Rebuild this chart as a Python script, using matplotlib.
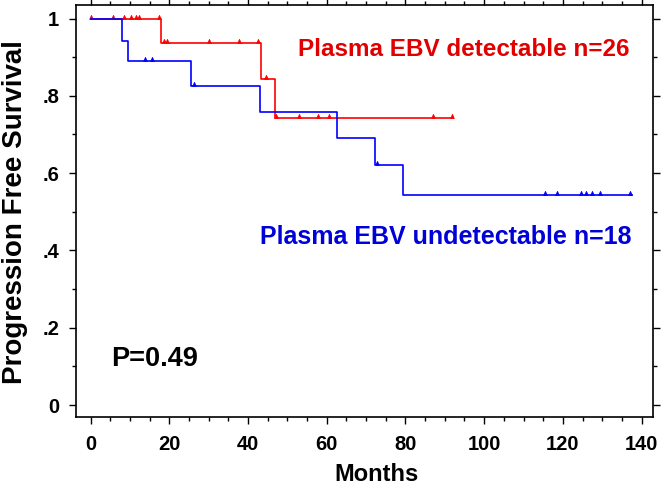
import numpy as np
import matplotlib
matplotlib.use("Agg")
import matplotlib.pyplot as plt
from matplotlib.path import Path
from matplotlib.ticker import MultipleLocator, FixedLocator

# ---- data ----
det_times = [0, 17.8, 43.4, 46.8, 92.0]
det_surv = [1.0, 0.937, 0.843, 0.742, 0.742]
det_censor = [0, 5.7, 8.5, 10.2, 11.5, 12.3, 17.4, 18.7, 19.3, 30.0, 37.7, 42.6,
              44.7, 47.1, 52.9, 57.8, 60.6, 87.1, 91.9]

und_times = [0, 7.9, 9.4, 25.4, 43.0, 62.6, 72.3, 79.4, 137.5]
und_surv = [1.0, 0.943, 0.890, 0.825, 0.758, 0.692, 0.621, 0.544, 0.544]
und_censor = [13.8, 15.6, 26.2, 72.7, 115.4, 118.4, 124.7, 125.8, 127.4, 129.4, 137.0]

x_ticks = [0, 20, 40, 60, 80, 100, 120, 140]
y_ticks = [0, 0.2, 0.4, 0.6, 0.8, 1.0]
y_ticklabels = ["0", ".2", ".4", ".6", ".8", "1"]

label_det = "Plasma EBV detectable n=26"
label_und = "Plasma EBV undetectable n=18"
p_text = "P=0.49"

# ---- figure ----
W, H = 661, 486
fig = plt.figure(figsize=(W / 100, H / 100), dpi=100)
ax = fig.add_axes([76 / W, (H - 417) / H, (653 - 76) / W, (417 - 5) / H])

font = "Liberation Sans"
RED = "#ff0000"
BLUE = "#0000ff"

tri = Path([(-1, 0), (0, 2.2), (1, 0), (-1, 0)],
           [Path.MOVETO, Path.LINETO, Path.LINETO, Path.CLOSEPOLY])


def level_at(times, surv, t):
    i = np.searchsorted(times, t, side="right") - 1
    return surv[max(i, 0)]


for times, surv, cens, col in [(det_times, det_surv, det_censor, RED),
                               (und_times, und_surv, und_censor, BLUE)]:
    ax.step(times, surv, where="post", color=col, lw=1.2)
    cy = [level_at(times, surv, t) for t in cens]
    ax.plot(cens, cy, linestyle="none", marker=tri, markersize=6,
            color=col, markeredgewidth=0.5)

ax.set_xlim(-3.7, 142.9)
ax.set_ylim(-0.031, 1.035)

ax.xaxis.set_major_locator(FixedLocator(x_ticks))
ax.xaxis.set_minor_locator(MultipleLocator(5))
ax.yaxis.set_major_locator(FixedLocator(y_ticks))
ax.yaxis.set_minor_locator(MultipleLocator(0.1))
ax.set_yticklabels(y_ticklabels)

ax.tick_params(which="both", direction="out", top=True, right=True,
               width=1.0, color="black")
ax.tick_params(which="major", length=5)
ax.tick_params(which="minor", length=3)
ax.tick_params(axis="x", pad=8)
ax.tick_params(axis="y", pad=7)
for lab in ax.get_xticklabels() + ax.get_yticklabels():
    lab.set_fontfamily(font)
    lab.set_fontweight("bold")
    lab.set_fontsize(14.5)

for s in ax.spines.values():
    s.set_linewidth(1.2)

fig.text(376 / W, 1 - 474 / H, "Months", fontfamily=font, fontweight="bold",
         fontsize=17, ha="center", va="center")
fig.text(15 / W, 1 - 212 / H, "Progression Free Survival", fontfamily=font,
         fontweight="bold", fontsize=20, ha="center", va="center", rotation=90)

fig.text(630 / W, 1 - 49.5 / H, label_det, color="#e00000",
         fontfamily=font, fontweight="bold", fontsize=17.5, ha="right", va="center")
fig.text(632 / W, 1 - 237 / H, label_und, color="#0000d8",
         fontfamily=font, fontweight="bold", fontsize=18, ha="right", va="center")
fig.text(111 / W, 1 - 359 / H, p_text, color="black",
         fontfamily=font, fontweight="bold", fontsize=19.5, ha="left", va="center")

fig.savefig("out.png", dpi=100)
